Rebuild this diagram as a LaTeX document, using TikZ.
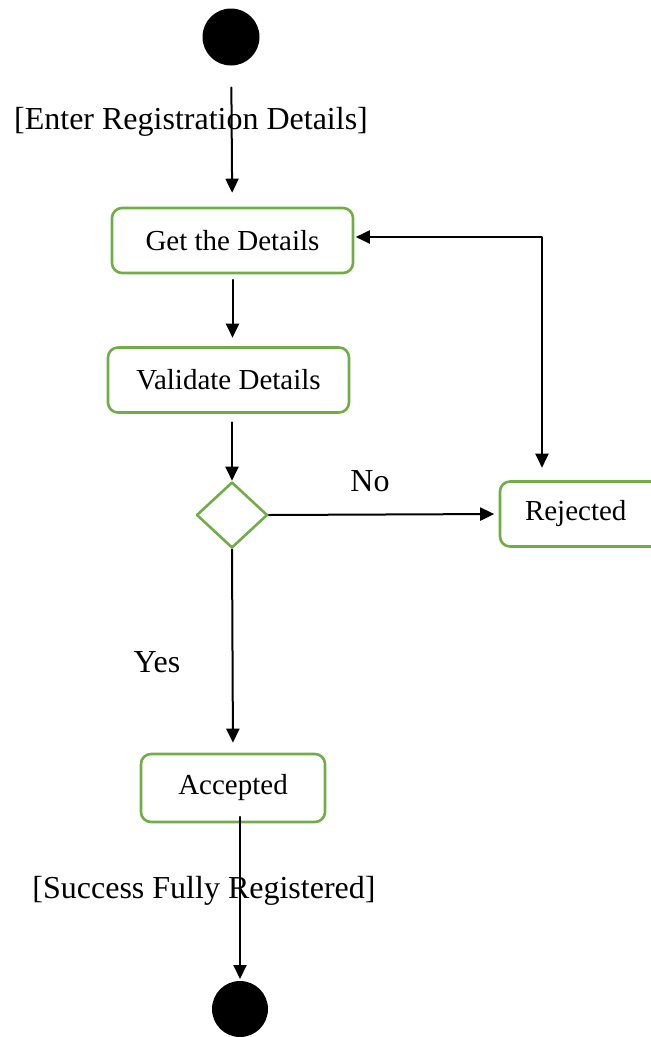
\documentclass[tikz,border=0pt]{standalone}
\usepackage{fontspec}
\setmainfont{Liberation Serif}
\usepackage{tikz}
\usetikzlibrary{arrows.meta,shapes.geometric}
\definecolor{qqgreen}{RGB}{112,173,71}
\definecolor{qqblack}{rgb}{0,0,0}
\begin{document}
\begin{tikzpicture}[x=1pt,y=-1pt,line cap=round,line join=round,
	>={Triangle[length=14pt,width=13pt]},
	activity/.style={draw=qqgreen,line width=2.6pt,rounded corners=10pt,minimum height=65pt,inner sep=0pt,font=\fontsize{29}{33}\selectfont},
	decision/.style={diamond,draw=qqgreen,line width=2.6pt,inner sep=0pt,minimum width=71pt,minimum height=66pt},
	terminal/.style={circle,fill=qqblack,inner sep=0pt,outer sep=0pt},
	guard/.style={font=\fontsize{32}{36}\selectfont,inner sep=0pt},
	flow/.style={->,line width=2pt,color=qqblack}]
	\useasboundingbox (0,0) rectangle (651,1037);
	% nodes
	\node[terminal,minimum size=57pt] (start) at (231,37) {};
	\node[activity,minimum width=241pt] (get) at (232.5,240.5) {Get the Details};
	\node[activity,minimum width=241pt] (val) at (228.5,380) {Validate Details};
	\node[decision] (dec) at (232,515) {};
	\node[activity,minimum width=170pt,text width=120pt,align=left] (rej) at (585,514) {Rejected};
	\node[activity,minimum width=184pt,minimum height=68pt] (acc) at (233,788) {Accepted};
	\node[terminal,minimum size=56pt] (fin) at (240,1009) {};
	\coordinate (corner) at (542,237);
	% labels
	\node[guard] (enter) at (191,122) {[Enter Registration Details]};
	\node[guard] (no) at (370,481) {No};
	\node[guard] (yes) at (157,662) {Yes};
	\node[guard] (success) at (204,891) {[Success Fully Registered]};
	% connectors
	\draw[flow,shorten <=22pt,shorten >=14pt] (start) -- (get);
	\draw[flow,shorten <=5.5pt,shorten >=8.5pt] (get.south) -- (get.south |- val.north);
	\draw[flow,shorten <=8.5pt] (val.south -| dec.north) -- (dec.north);
	\draw[flow,shorten >=4.5pt] (dec.east) -- (rej.west);
	\draw[flow,shorten >=10pt] (dec.south) -- (acc.north);
	\draw[flow,shorten <=-6.5pt,shorten >=2pt] (acc.south -| fin.north) -- (fin.north);
	\draw[flow,<->,shorten <=1.5pt,shorten >=12.5pt] (get.east |- corner) -- (corner) -- (corner |- rej.north);
\end{tikzpicture}
\end{document}
